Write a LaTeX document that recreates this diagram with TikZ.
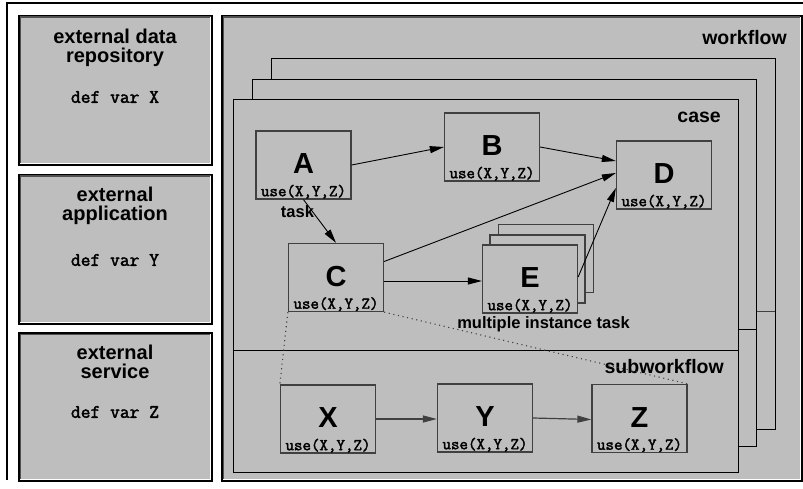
\documentclass[tikz,border=0pt]{standalone}
\usepackage{fontspec}
\setmainfont{Liberation Sans}
\newfontfamily\codefont[FakeBold=2.2]{Latin Modern Mono}
\usetikzlibrary{arrows.meta}

\definecolor{panel}{RGB}{190,190,190}
\definecolor{edgegray}{RGB}{64,64,64}
\definecolor{bevelgray}{RGB}{80,80,80}

% inner bevel of a heavy frame: dark on top/left, light on bottom/right
\newcommand\sunkenframe[1]{%
  \draw[line width=1.6pt, bevelgray]
    ([shift={(2.3,-2.3)}]#1.south west) -- ([shift={(2.3,2.3)}]#1.north west)
    -- ([shift={(-2.3,2.3)}]#1.north east);
  \draw[line width=1pt, white]
    ([shift={(2.3,-2.3)}]#1.south west) -- ([shift={(-2.3,-2.3)}]#1.south east)
    -- ([shift={(-2.3,2.3)}]#1.north east);}

\begin{document}
\begin{tikzpicture}[x=1pt,y=-1pt,
  heavybox/.style={draw=black, line width=3pt, fill=panel, inner sep=0pt},
  casebox/.style={draw=black, line width=0.9pt, fill=panel},
  task/.style={draw=edgegray, line width=1.3pt, fill=panel, inner sep=0pt,
    minimum width=95pt, minimum height=68pt},
  letter/.style={font=\fontsize{29}{29}\selectfont\bfseries, inner sep=0pt},
  usetext/.style={font=\fontsize{16.5}{16.5}\selectfont\codefont, inner sep=0pt},
  heading/.style={font=\fontsize{20}{19}\selectfont\bfseries, align=center, inner sep=0pt},
  deftext/.style={font=\fontsize{19}{19}\selectfont\codefont, inner sep=0pt},
  caption/.style={font=\fontsize{19.5}{19.5}\selectfont\bfseries, inner sep=0pt},
  note/.style={font=\fontsize{16.5}{16.5}\selectfont\bfseries, inner sep=0pt},
  flow/.style={line width=0.9pt, -{Triangle[length=14pt,width=7pt]}},
  mapping/.style={line width=1.1pt, edgegray, dash pattern=on 1.1pt off 3.6pt},
]
\useasboundingbox (0,0) rectangle (803,489);

% outer frame
\draw[line width=1.5pt] (7,480) -- (7,3) -- (805,3);

% external resources
\node[heavybox, minimum width=192pt, minimum height=148pt] (repo) at (115.5,90.5) {};
\node[heavybox, minimum width=192pt, minimum height=148pt] (app) at (115.5,249.5) {};
\node[heavybox, minimum width=192pt, minimum height=147pt] (serv) at (115.5,407) {};
\sunkenframe{repo}
\sunkenframe{app}
\sunkenframe{serv}

\node[heading] (repotitle) at (115,47.5) {external data\\repository};
\node[deftext] (repodef) at (115,97) {def var X};
\node[heading] (apptitle) at (115,206) {external\\application};
\node[deftext] (appdef) at (115,260) {def var Y};
\node[heading] (servtitle) at (115,361.5) {external\\service};
\node[deftext] (servdef) at (115,412) {def var Z};

% workflow frame
\node[heavybox, minimum width=578.5pt, minimum height=464pt] (wf) at (511.75,248.5) {};
\sunkenframe{wf}
\node[caption, anchor=east] (wflabel) at (787,38) {workflow};

% stacked cases, each split into a case part and a subworkflow part
\draw[casebox] (271,58) rectangle (775,429);
\draw[line width=0.9pt, edgegray] (271,311) -- (775,311);
\draw[casebox] (252,79) rectangle (756,446);
\draw[line width=0.9pt] (252,329) -- (756,329);
\draw[casebox] (233,99) rectangle (738,472);
\draw[line width=0.9pt] (233,350) -- (738,350);
\node[caption, anchor=east] (caselabel) at (721,117) {case};
\node[caption, anchor=east] (subwflabel) at (724,367) {subworkflow};

% tasks of the case
\node[task] (A) at (303.5,165) {};
\node[task] (B) at (492,147) {};
\node[task] (C) at (336,277.5) {};
\node[task] (D) at (664,175) {};
\node[task] (E3) at (546,258.5) {};
\node[task] (E2) at (537.5,269) {};
\node[task] (E) at (530,279) {};

% tasks of the subworkflow
\node[task] (X) at (328,419) {};
\node[task] (Y) at (485,418) {};
\node[task] (Z) at (639.5,418.5) {};

% task texts
\foreach \t in {A,B,C,D,E,X,Y,Z}{
  \node[letter] (\t name) at ([yshift=1pt]\t.center) {\t};
  \node[usetext] (\t use) at ([yshift=8pt]\t.south) {use(X,Y,Z)};
}

\node[note] (tasklabel) at (297.5,212) {task};
\node[note] (milabel) at (543.5,324) {multiple instance task};

% control flow
\draw[flow] (A.east) -- (B.west);
\draw[flow] (B.east) -- ([yshift=14pt]D.west);
\draw[flow] ([yshift=16pt]C.east) -- ([yshift=2pt]D.west);
\draw[flow] ([yshift=2pt]E.east) -- ([yshift=-13pt]D.west);
\draw[flow] (A.south) -- (C.north);
\draw[flow] ([yshift=-3.5pt]C.east) -- ([yshift=-2pt]E.west);
\draw[flow, edgegray, line width=1.2pt] (X.east) -- ([yshift=-1pt]Y.west);
\draw[flow, edgegray, line width=1.2pt] (Y.east) -- ([yshift=-1pt]Z.west);

% decomposition of C into the subworkflow
\draw[mapping] (C.south west) -- (X.north west);
\draw[mapping] (C.south east) -- (Z.north east);
\end{tikzpicture}
\end{document}
